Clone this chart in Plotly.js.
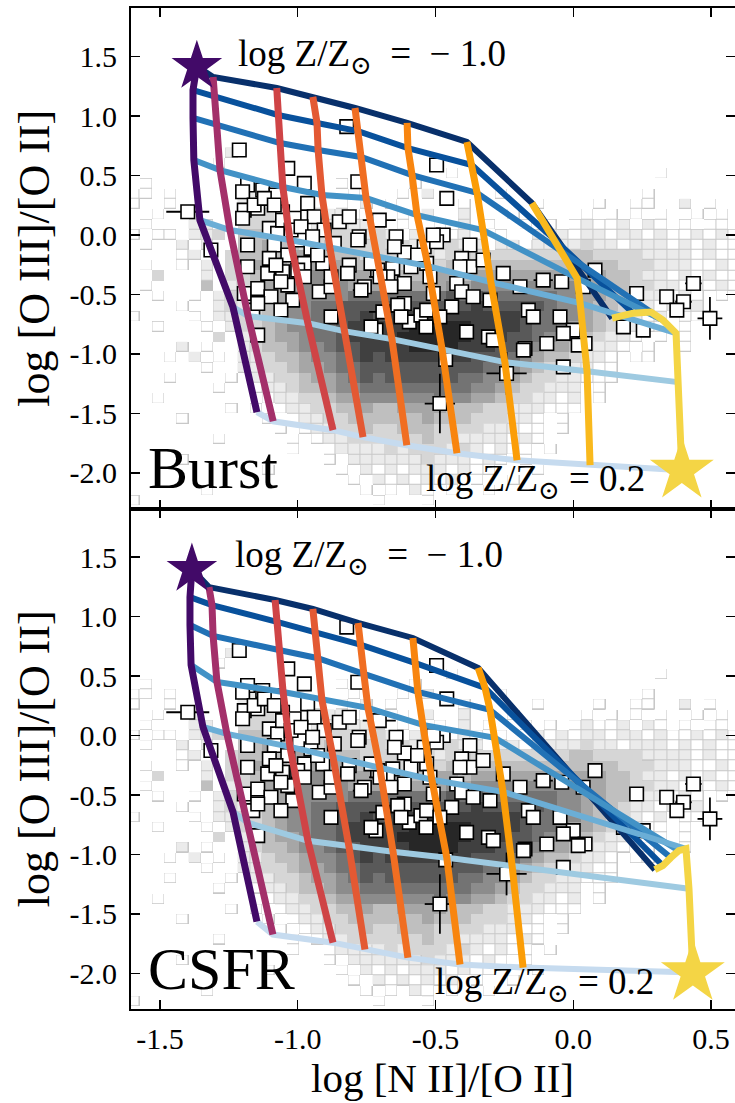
<!DOCTYPE html>
<html><head><meta charset="utf-8">
<script src="https://cdn.plot.ly/plotly-3.0.1.min.js"></script>
<style>html,body{margin:0;padding:0;background:#fff}</style>
</head><body>
<div id="chart" style="width:735px;height:1103px"></div>
<script>
// ---------------- data ----------------
const metallicity = [-1.0, -0.85, -0.7, -0.55, -0.4, -0.25, -0.1, 0.05, 0.2];
// model grid nodes: one row per metallicity, 7 ionization parameters (high -> low)
const burstX = [
 [-1.366,-1.380,-1.380,-1.377,-1.355,-1.235,-1.148],
 [-1.307,-1.300,-1.294,-1.282,-1.246,-1.180,-1.089],
 [-1.076,-1.072,-1.064,-1.054,-1.028,-0.963,-0.872],
 [-0.945,-0.930,-0.926,-0.912,-0.883,-0.832,-0.763],
 [-0.792,-0.781,-0.770,-0.752,-0.712,-0.658,-0.604],
 [-0.603,-0.600,-0.585,-0.567,-0.527,-0.476,-0.422],
 [-0.386,-0.368,-0.349,-0.328,-0.299,-0.248,-0.204],
 [-0.150,-0.074,-0.044,0.014,0.025,0.050,0.061],
 [0.141,0.217,0.282,0.326,0.373,0.380,0.394]
];
const burstY = [
 [1.420,1.220,0.985,0.631,0.126,-0.606,-1.490],
 [1.330,1.164,0.926,0.547,0.042,-0.682,-1.566],
 [1.237,1.010,0.774,0.404,-0.042,-0.741,-1.641],
 [1.162,0.943,0.716,0.337,-0.109,-0.808,-1.700],
 [1.069,0.875,0.657,0.311,-0.185,-0.875,-1.768],
 [0.943,0.732,0.505,0.168,-0.261,-0.960,-1.835],
 [0.783,0.589,0.354,0.042,-0.396,-1.069,-1.894],
 [0.269,-0.025,-0.135,-0.362,-0.572,-1.145,-1.936],
 [-0.699,-0.657,-0.648,-0.716,-0.825,-1.237,-1.978]
];
const csfrX = [
 [-1.384,-1.391,-1.391,-1.387,-1.344,-1.235,-1.148],
 [-1.322,-1.311,-1.307,-1.293,-1.257,-1.181,-1.090],
 [-1.082,-1.075,-1.068,-1.053,-1.028,-0.963,-0.872],
 [-0.945,-0.937,-0.930,-0.912,-0.872,-0.814,-0.756],
 [-0.781,-0.770,-0.760,-0.745,-0.702,-0.654,-0.600],
 [-0.582,-0.575,-0.564,-0.546,-0.513,-0.459,-0.411],
 [-0.345,-0.320,-0.302,-0.284,-0.255,-0.222,-0.182],
 [null,null,null,null,null,null,null],
 [0.296,0.325,0.354,0.383,0.409,0.420,0.434]
];
const csfrY = [
 [1.400,1.165,0.930,0.594,0.073,-0.641,-1.565],
 [1.249,1.098,0.838,0.451,0.014,-0.733,-1.674],
 [1.140,0.956,0.720,0.367,-0.095,-0.885,-1.742],
 [1.065,0.871,0.653,0.300,-0.179,-0.935,-1.800],
 [0.947,0.762,0.519,0.233,-0.271,-0.977,-1.868],
 [0.821,0.611,0.368,0.090,-0.372,-1.027,-1.926],
 [0.569,0.401,0.216,-0.019,-0.473,-1.094,-1.951],
 [null,null,null,null,null,null,null],
 [-1.128,-1.094,-1.027,-0.968,-0.952,-1.288,-1.994]
];
// observed galaxies
const ptX = [-1.212,-1.036,-1.399,-1.182,-1.200,-1.127,-1.079,-1.194,-1.145,-1.200,
 -1.055,-1.013,-0.964,-0.940,-0.976,-0.782,-0.849,-0.813,-0.704,-0.777,
 -0.643,-0.613,-1.103,-1.073,-0.994,-1.182,-1.315,-1.085,-1.103,-1.036,
 -0.976,-0.909,-0.813,-1.182,-1.109,-1.055,-1.000,-0.710,-0.655,-0.589,
 -0.541,-1.194,-1.145,-1.036,-0.922,-1.018,-0.879,-1.163,-1.145,-0.691,
 -0.613,-0.595,-0.553,-0.613,-0.673,-0.716,-0.534,-1.061,-1.079,-0.496,
 -0.459,-0.472,-0.496,-0.375,-0.532,-0.405,-0.375,-0.327,-0.411,-0.520,
 -0.423,-0.405,-0.508,-0.441,-0.302,-0.109,-0.042,0.036,0.079,-0.163,
 -0.145,-0.048,0.000,-0.036,-0.096,-0.175,-0.387,-0.308,0.043,0.230,
 0.182,0.254,0.339,0.400,0.376,0.436,0.496,-0.290,-0.181,-0.242,
 -0.484,-0.036,0.018,-0.463,-0.701,-0.822,-0.879,-0.758,-0.952,-0.904,
 -0.637,-0.508,-1.158,-1.121,-1.085,-1.055,-1.024,-0.988,-0.946,-0.928,
 -0.867,-0.782,-0.734,-0.649,-0.565,-0.625,-0.819,-0.879,-0.976,-1.097,
 -1.145,-1.061,-0.770,-0.662,-0.734,-0.532,-0.484,-0.363,-0.254,-0.193];
const ptY = [0.715,0.561,0.196,0.421,0.364,0.379,0.337,0.210,0.225,0.141,
 0.196,0.141,0.267,0.154,0.435,0.449,0.112,0.154,0.126,-0.014,
 -0.014,-0.147,0.056,0.014,-0.042,-0.084,-0.126,-0.084,-0.196,-0.168,
 -0.238,-0.238,-0.253,-0.267,-0.322,-0.309,-0.295,-0.295,-0.280,-0.267,
 -0.098,-0.491,-0.449,-0.421,-0.477,-0.547,-0.688,-0.631,-0.842,-0.646,
 -0.575,-0.730,-0.673,-0.407,-0.351,-0.800,-0.772,-0.393,-0.253,0.589,
 0.309,0.000,-0.056,-0.084,-0.238,-0.196,-0.267,-0.210,-0.267,-0.351,
 -0.407,-0.477,-0.491,-0.604,-0.547,-0.379,-0.393,-0.435,-0.295,-0.631,
 -0.688,-0.688,-0.800,-0.827,-0.912,-0.954,-0.814,-0.856,-0.912,-0.491,
 -0.772,-0.800,-0.519,-0.561,-0.631,-0.407,-0.701,-0.884,-0.968,-1.164,
 -1.417,-1.109,-0.926,-1.046,-0.351,0.912,-0.435,-0.435,-0.112,0.042,
 -0.589,0.000,0.253,0.309,0.253,0.126,0.042,0.070,-0.014,-0.168,
 -0.070,-0.042,-0.238,-0.098,-0.168,-0.688,-0.322,-0.351,-0.351,-0.519,
 -0.575,-0.631,-0.463,-0.435,-0.772,-0.631,-0.688,-0.519,-0.322,-0.435];
const ptErrX = [0,0,.078,0,0,0,0,0,0,0, 0,0,0,0,0,0,0,0,.06,0, 0,0,0,0,0,0,0,0,0,0,
 0,0,0,0,0,0,0,0,0,0, 0,0,0,0,0,0,0,0,0,.05, 0,0,0,0,0,0,0,0,0,0,
 0,0,0,0,0,0,0,0,0,0, 0,0,0,0,0,.035,0,0,0,0, 0,0,0,0,0,0,0,0,0,0,
 0,0,0,.03,0,.03,.045,0,0,.073, .055,0,0,0,.04,0,0,0,0,0, 0,0,0,0,0,0,0,0,0,0,
 0,0,0,0,0,0,0,0,0,0, 0,0,.03,0,0,0,0,0,0,0];
const ptErrY = [0,0,0,0,0,0,0,0,0,0, 0,0,0,0,0,0,0,0,0,0, 0,0,0,0,0,0,0,0,0,0,
 0,0,0,0,0,0,0,0,0,0, 0,0,0,0,0,0,0,0,0,0, 0,0,0,0,0,0,0,0,0,0,
 0,0,0,0,0,0,0,0,0,0, 0,0,0,0,0,0,0,0,0,0, 0,0,0,0,0,0,0,0,0,0,
 0,0,0,0,.05,0,.18,0,0,.18, .25,0,0,0,0,0,0,0,0,0, 0,0,0,0,0,0,0,0,0,0,
 0,0,0,0,0,0,0,0,0,0, 0,0,0,0,0,0,0,0,0,0];
// SDSS density map, rows top -> bottom, 50 columns ('|' only groups columns by ten)
// '.' = empty bin, 0..9 = darkness level
const densityRows = [
 "........1.|..........|..........|..........|..........",
 ".......0..|..........|..........|..........|..........",
 "..........|..........|......0...|..........|...0......",
 ".0........|.......0..|...0......|..........|..........",
 "00.0.....1|1.......0.|..0.1.....|0.........|..0.......",
 "0..0.....1|21...0.0.1|.0.....0..|...0....0.|.00..1.0..",
 "..0..1...2|221..0110.|..0.1..1..|.0.....0.0|.0.0..0.0.",
 ".0...11..2|2221.11211|1.0..0.1.0|..0.0.0100|1.10.0.00.",
 "0.00.112.3|3322122221|21.1.1010.|0..1010110|1101001010",
 ".0..1.1..3|3433223222|2121.1211.|1101111211|0111010100",
 "....01..23|3434433332|2221212122|2222223322|2211110100",
 ".0..0.1.23|4443443433|3322323233|3333333333|2221110010",
 "..2...1.22|3444454444|4333344344|4444444443|3211010100",
 ".0....3.12|3444555544|4444445455|5555555443|3221101010",
 "..0..0.12.|2345555566|6666667676|6666655443|3211010.0.",
 "....0..121|2345566777|7777778787|7777655433|2110101...",
 "0....0.112|2345566778|7888888888|8876655432|2101.00...",
 "..0...0.12|2345566788|8889999988|8876654432|1100.0....",
 ".......2.1|2344566788|8899999988|8776544321|10.0.0....",
 "....1.0..1|2334556778|8889999888|7765443211|0.0..0....",
 "...0.1.0.1|1233455678|7888888877|7654332110|.00.......",
 "......0..1|1223445667|7777777776|6543221100|..........",
 "...0....0.|1122344567|6777777665|5432211000|..........",
 ".......0..|0112334556|6666666655|4322111.0.|..........",
 "..0.......|.011223445|5555565544|3221101.0.|..........",
 "........0.|0.01122334|3344443332|2111000...|..........",
 "....0.....|.0.0112233|3333433322|2110.0....|..........",
 "..........|..0.011223|2233322221|1100.0....|..........",
 ".......0..|...0.01122|2222322111|1010......|..........",
 "..........|...0..0111|1212221210|100.0.....|..........",
 "....0.....|......0.11|1111211101|0.0.......|..........",
 "..........|.0.....0.1|0101110100|...0......|..........",
 "..........|........0.|1010101.0.|.0........|..........",
 "......0...|.........0|.0.10.0..0|..........|..........",
 "0.........|..........|0...0.....|..........|..........",
 "..........|..........|..........|..........|.........."
];
const xTickVals = [-1.5, -1.0, -0.5, 0.0, 0.5];
const xTickText = ["-1.5", "-1.0", "-0.5", "0.0", "0.5"];
const yTickVals = [-2.0, -1.5, -1.0, -0.5, 0.0, 0.5, 1.0, 1.5];
const yTickText = ["-2.0", "-1.5", "-1.0", "-0.5", "0.0", "0.5", "1.0", "1.5"];

// ---------------- styles ----------------
const SERIF = "'Liberation Serif', 'DejaVu Serif', serif";
const blueColors = ['#08306b','#08519c','#2171b5','#4292c6','#6baed6','#9ecae1','#c6dbef'];
const metalColors = ['#420a68','#a3306a','#cf4446','#e35933','#f06e22','#f8850f','#fb9d07','#f9b91d','#f4d545'];

const levels = densityRows.map(s => s.replace(/\|/g, '').split('').map(c => c === '.' ? null : +c)).reverse();
const zA = levels.map(r => r.map(v => v === null ? null : (v <= 1 ? 10 : v)));
const zB = levels.map(r => r.map(v => (v === 0 || v === 1) ? v : null));
const grays = ['#ffffff','#ebebeb','#d6d6d6','#bfbfbf','#a6a6a6','#8c8c8c','#737373','#595959','#404040','#272727','#c8c8c8'];
const csA = grays.map((c, i) => [i / 10, c]);
const csB = [[0, '#ffffff'], [1, '#ebebeb']];
const HX0 = -1.5958, HDX = 0.0445, HY0 = 0.735 - 0.086 * 35.5, HDY = 0.086;

function panel(X, Y, xa, ya) {
  const t = [];
  t.push({type:'heatmap', z:zA, x0:HX0, dx:HDX, y0:HY0, dy:HDY, colorscale:csA, zmin:0, zmax:10,
          showscale:false, hoverinfo:'skip', xaxis:xa, yaxis:ya});
  t.push({type:'heatmap', z:zB, x0:HX0, dx:HDX, y0:HY0, dy:HDY, colorscale:csB, zmin:0, zmax:1,
          xgap:1, ygap:1, showscale:false, hoverinfo:'skip', xaxis:xa, yaxis:ya});
  t.push({type:'scatter', mode:'markers', x:ptX, y:ptY, xaxis:xa, yaxis:ya,
          marker:{symbol:'square', size:13.5, color:'#ffffff', line:{color:'#000', width:1.6}},
          error_x:{type:'data', array:ptErrX, visible:true, color:'#000', thickness:1.8, width:0},
          error_y:{type:'data', array:ptErrY, visible:true, color:'#000', thickness:1.8, width:0},
          hoverinfo:'skip'});
  for (let j = 0; j < 7; j++) {
    t.push({type:'scatter', mode:'lines', x:X.map(r => r[j]), y:Y.map(r => r[j]), connectgaps:true,
            line:{color:blueColors[j], width:6}, xaxis:xa, yaxis:ya, hoverinfo:'skip'});
  }
  for (let i = 0; i < metallicity.length; i++) {
    t.push({type:'scatter', mode:'lines', x:X[i], y:Y[i], name:'log Z = ' + metallicity[i],
            line:{color:metalColors[i], width:7}, xaxis:xa, yaxis:ya, hoverinfo:'skip'});
  }
  t.push({type:'scatter', mode:'markers', x:[X[0][0]], y:[Y[0][0]], xaxis:xa, yaxis:ya,
          marker:{symbol:'star', size:38, color:metalColors[0], line:{width:0}}, hoverinfo:'skip'});
  t.push({type:'scatter', mode:'markers', x:[X[8][6]], y:[Y[8][6]], xaxis:xa, yaxis:ya,
          marker:{symbol:'star', size:48, color:metalColors[8], line:{width:0}}, hoverinfo:'skip'});
  return t;
}

const traces = [].concat(panel(burstX, burstY, 'x2', 'y'), panel(csfrX, csfrY, 'x', 'y2'));

const tickFont = {family:SERIF, size:30, color:'#000'};
const common = {showline:true, linecolor:'#000', linewidth:2, mirror:'ticks', ticks:'inside', ticklen:9,
                tickwidth:1.5, tickcolor:'#000', showgrid:false, zeroline:false, tickfont:tickFont};
const XR = [-1.605, 0.587], YR = [-2.30, 1.91];
const titleFont = {family:SERIF, size:44, color:'#000'};
const xTitleFont = {family:SERIF, size:41, color:'#000'};
const annFont = {family:SERIF, size:37, color:'#000'};
const NB = '\u00a0';
const zLow = 'log Z/Z<sub>⊙</sub>' + NB + NB + '=' + NB + NB + '−' + NB + '1.0';
const zHigh = 'log Z/Z<sub>⊙</sub>' + NB + '=' + NB + '0.2';

const layout = {
  width:735, height:1103, margin:{l:131, r:0, t:8, b:94},
  paper_bgcolor:'#fff', plot_bgcolor:'#fff', showlegend:false,
  xaxis: Object.assign({}, common, {anchor:'y2', range:XR, tickvals:xTickVals, ticktext:xTickText,
          ticklabelstandoff:2}),
  xaxis2: Object.assign({}, common, {anchor:'y', range:XR, matches:'x', tickvals:xTickVals, showticklabels:false}),
  yaxis: Object.assign({}, common, {domain:[0.5, 1], anchor:'x2', range:YR, tickvals:yTickVals, ticktext:yTickText,
          ticklabelstandoff:6, title:{text:'log [O III]/[O II]', font:titleFont, standoff:6}}),
  yaxis2: Object.assign({}, common, {domain:[0, 0.5], anchor:'x', range:YR, tickvals:yTickVals, ticktext:yTickText,
          ticklabelstandoff:6, title:{text:'log [O III]/[O II]', font:titleFont, standoff:6}}),
  annotations: [
    {xref:'paper', yref:'paper', x:0.515, y:-0.069, xanchor:'center', yanchor:'middle', showarrow:false,
     text:'log [N II]/[O II]', font:xTitleFont},
    {xref:'x2', yref:'y', x:-1.225, y:1.50, xanchor:'left', yanchor:'middle', showarrow:false,
     text:zLow, font:annFont},
    {xref:'x2', yref:'y', x:-0.54, y:-2.07, xanchor:'left', yanchor:'middle', showarrow:false,
     text:zHigh, font:annFont},
    {xref:'x2', yref:'y', x:-1.55, y:-1.96, xanchor:'left', yanchor:'middle', showarrow:false,
     text:'Burst', font:{family:SERIF, size:60, color:'#000'}},
    {xref:'x', yref:'y2', x:-1.235, y:1.50, xanchor:'left', yanchor:'middle', showarrow:false,
     text:zLow, font:annFont},
    {xref:'x', yref:'y2', x:-0.51, y:-2.09, xanchor:'left', yanchor:'middle', showarrow:false,
     text:zHigh, font:annFont},
    {xref:'x', yref:'y2', x:-1.55, y:-1.96, xanchor:'left', yanchor:'middle', showarrow:false,
     text:'CSFR', font:{family:SERIF, size:60, color:'#000'}}
  ]
};

Plotly.newPlot('chart', traces, layout, {displayModeBar:false, staticPlot:true});
</script>
</body></html>
